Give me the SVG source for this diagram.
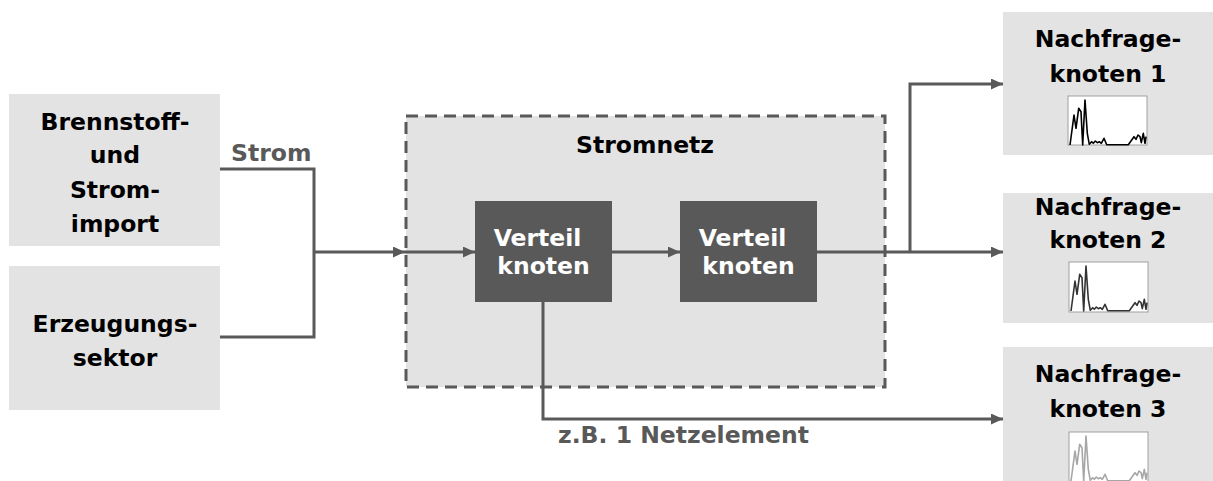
<svg xmlns="http://www.w3.org/2000/svg" width="1213" height="481" viewBox="0 0 1213 481">
<style>
.box{fill:#e3e3e3}
.dark{fill:#595959}
.t{font-family:"DejaVu Sans","Verdana",sans-serif;font-weight:bold;font-size:23.5px;fill:#000;text-anchor:middle}
.w{fill:#fff}
.g{fill:#595959}
.ln{fill:none;stroke:#595959;stroke-width:3}
.chartbox{fill:#fff;stroke:#a0a0a0;stroke-width:1}
.spark{fill:none;stroke-width:1.6;stroke-linejoin:round}
</style>
<defs>
<marker id="arr" markerUnits="userSpaceOnUse" markerWidth="12" markerHeight="11" refX="12" refY="5.5" orient="auto">
<path d="M0,0 L12,5.5 L0,11 z" fill="#595959"/>
</marker>
<path id="sp" d="M2,49 L6,19 L8,32.3 L10.7,12.3 L13,15.7 L14.7,49 L17,4 L19.3,37.3 L21.3,48.3 L23.7,45.7 L25.3,47.3 L27.3,45 L29.3,46.7 L31.3,45.7 L33.3,47.3 L36,42.3 L38.7,48.7 L60.3,48.7 L63.7,44 L66,40.7 L68,43.3 L70,39 L72,40.7 L73.3,46.7 L75.3,37.3 L77,47.3 L78,40.7"/>
</defs>
<rect width="1213" height="481" fill="#fff"/>

<g id="brennstoff">
<rect class="box" x="9" y="94" width="211" height="152"/>
<text class="t" x="115" y="130">Brennstoff-</text>
<text class="t" x="115" y="163">und</text>
<text class="t" x="115" y="198">Strom-</text>
<text class="t" x="115" y="232">import</text>
</g>
<g id="erzeugung">
<rect class="box" x="9" y="266" width="211" height="144"/>
<text class="t" x="115" y="332">Erzeugungs-</text>
<text class="t" x="115" y="366">sektor</text>
</g>

<g id="stromnetz">
<rect x="406" y="116" width="479" height="271" fill="#e3e3e3" stroke="#595959" stroke-width="3" stroke-dasharray="12,7"/>
<text class="t" x="645" y="153">Stromnetz</text>
</g>
<g id="verteil1">
<rect class="dark" x="475" y="201" width="137" height="101"/>
<text class="t w" x="537.5" y="246">Verteil</text>
<text class="t w" x="543.5" y="274">knoten</text>
</g>
<g id="verteil2">
<rect class="dark" x="680" y="201" width="137" height="101"/>
<text class="t w" x="742.5" y="246">Verteil</text>
<text class="t w" x="748.5" y="274">knoten</text>
</g>

<g id="nachfrage1">
<rect class="box" x="1003" y="12" width="212" height="143"/>
<text class="t" x="1108" y="47">Nachfrage-</text>
<text class="t" x="1108" y="82">knoten 1</text>
<rect class="chartbox" x="1068" y="96" width="79" height="49"/>
<use href="#sp" x="1068" y="96" class="spark" stroke="#000"/>
</g>
<g id="nachfrage2">
<rect class="box" x="1003" y="193" width="212" height="130"/>
<text class="t" x="1108" y="215">Nachfrage-</text>
<text class="t" x="1108" y="248">knoten 2</text>
<rect class="chartbox" x="1069" y="262" width="79" height="50"/>
<use href="#sp" x="1069" y="262" class="spark" stroke="#333"/>
</g>
<g id="nachfrage3">
<rect class="box" x="1003" y="347" width="212" height="140"/>
<text class="t" x="1108" y="382">Nachfrage-</text>
<text class="t" x="1108" y="417">knoten 3</text>
<rect class="chartbox" x="1069" y="432" width="79" height="50"/>
<use href="#sp" x="1069" y="432" class="spark" stroke="#a6a6a6"/>
</g>

<g id="connectors">
<path class="ln" d="M220,169 H314 V252"/>
<path class="ln" d="M220,337 H314 V252"/>
<path class="ln" d="M314,252 H405" marker-end="url(#arr)"/>
<path class="ln" d="M405,252 H475" marker-end="url(#arr)"/>
<path class="ln" d="M612,252 H680" marker-end="url(#arr)"/>
<path class="ln" d="M817,252 H1003" marker-end="url(#arr)"/>
<path class="ln" d="M910,252 V84 H1003" marker-end="url(#arr)"/>
<path class="ln" d="M543,302 V419 H1003" marker-end="url(#arr)"/>
<text class="t g" x="231" y="161" style="text-anchor:start">Strom</text>
<text class="t g" x="558" y="443" style="text-anchor:start">z.B. 1 Netzelement</text>
</g>
</svg>
